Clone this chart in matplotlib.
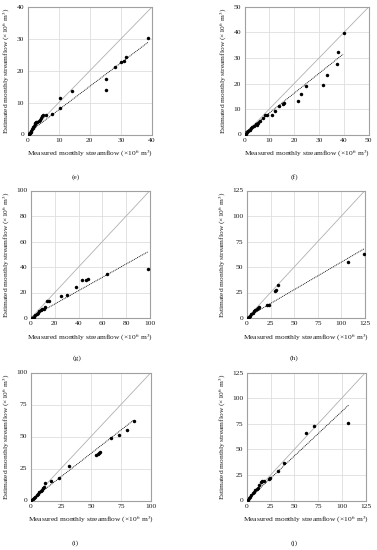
import matplotlib
matplotlib.use("Agg")
import matplotlib.pyplot as plt

plt.rcParams['font.family'] = ['Liberation Serif', 'DejaVu Serif']
plt.rcParams['mathtext.fontset'] = 'stix'

# ---- data (measured x, estimated y), units 10^6 m^3 ----
e_x = [0.4, 0.5, 0.6, 0.8, 1.0, 1.2, 1.4, 1.6, 1.8, 2.0, 2.2, 2.5, 2.8, 3.0, 3.5, 4.0, 4.2, 4.5, 5.0, 5.8,
       7.7, 10.3, 10.3, 14.1, 25.1, 25.3, 28.1, 29.9, 31.0, 31.7, 38.7]
e_y = [0.1, 0.2, 0.4, 0.6, 0.9, 1.2, 1.6, 2.0, 2.4, 2.8, 3.2, 3.6, 3.8, 4.0, 4.2, 4.5, 5.2, 5.8, 6.0, 6.0,
       6.3, 8.2, 11.4, 13.7, 14.0, 17.5, 21.2, 22.6, 23.2, 24.2, 30.2]
e_trend_x = [0.3, 38.7]
e_trend_y = [0.6, 28.9]

f_x = [0.3, 0.5, 1.1, 1.6, 2.2, 2.7, 3.2, 4.0, 4.5, 5.0, 5.6, 6.3, 7.3, 8.3, 9.0, 11.0, 12.1, 13.7,
       15.5, 15.9, 21.5, 22.8, 24.9, 31.5, 33.3, 37.4, 37.8, 40.2]
f_y = [0.1, 0.3, 0.8, 1.3, 1.8, 2.4, 2.9, 3.4, 4.0, 3.9, 4.5, 5.1, 6.3, 7.5, 7.6, 7.7, 9.2, 11.3,
       11.9, 12.3, 13.2, 15.8, 19.0, 19.6, 23.4, 27.6, 32.2, 39.8]
f_trend_x = [0.3, 39.7]
f_trend_y = [0.9, 31.5]

g_x = [0.8, 1.4, 2.5, 3.7, 4.8, 5.9, 7.1, 8.2, 9.6, 10.7, 11.9, 13.6, 15.5, 24.9, 29.9, 37.9, 42.9,
       46.6, 47.5, 63.6, 98.6]
g_y = [0.1, 0.3, 1.0, 2.1, 3.1, 4.2, 5.2, 6.0, 6.8, 7.3, 8.6, 13.1, 13.4, 17.3, 18.1, 24.3, 29.6,
       29.8, 30.4, 34.8, 38.5]
g_trend_x = [0.5, 98.6]
g_trend_y = [0.8, 52.1]

h_x = [0.7, 1.8, 3.2, 4.6, 6.0, 7.5, 8.9, 10.3, 11.7, 13.2, 21.7, 23.1, 29.9, 31.0, 32.7, 106.8, 123.8]
h_y = [0.1, 1.0, 2.3, 3.6, 5.2, 6.5, 7.9, 8.8, 9.8, 10.8, 12.4, 13.1, 26.5, 27.5, 32.7, 55.0, 62.5]
h_trend_x = [0.5, 123.8]
h_trend_y = [1.0, 67.7]

i_x = [0.3, 1.4, 2.5, 3.6, 4.7, 5.8, 6.9, 8.1, 9.2, 10.0, 10.8, 11.9, 16.7, 23.6, 31.4, 54.4, 55.8,
       56.9, 57.8, 66.7, 73.3, 80.0, 85.6]
i_y = [0.3, 1.0, 2.1, 3.1, 4.2, 5.2, 6.3, 7.3, 8.4, 9.4, 10.7, 13.9, 14.9, 17.8, 27.0, 35.9, 36.4,
       37.4, 38.2, 49.2, 50.8, 54.7, 62.0]
i_trend_x = [0.3, 85.6]
i_trend_y = [0.5, 62.8]

j_x = [0.6, 1.8, 3.2, 4.6, 6.0, 7.4, 8.8, 10.2, 11.7, 13.1, 14.5, 16.2, 18.0, 23.0, 24.4, 32.5, 39.5,
       62.1, 70.6, 106.6]
j_y = [0.3, 2.3, 3.9, 5.6, 7.2, 8.5, 9.8, 11.1, 12.4, 15.1, 17.7, 18.7, 19.3, 21.3, 21.9, 28.8, 36.3,
       66.4, 72.3, 75.3]
j_trend_x = [0.5, 107.3]
j_trend_y = [0.5, 93.3]

panel_labels = ['(e)', '(f)', '(g)', '(h)', '(i)', '(j)']
axis_max = [40, 50, 100, 125, 100, 125]
tick_steps = [10, 10, 20, 25, 25, 25]
xs = [e_x, f_x, g_x, h_x, i_x, j_x]
ys = [e_y, f_y, g_y, h_y, i_y, j_y]
txs = [e_trend_x, f_trend_x, g_trend_x, h_trend_x, i_trend_x, j_trend_x]
tys = [e_trend_y, f_trend_y, g_trend_y, h_trend_y, i_trend_y, j_trend_y]

W, H = 377, 550
fig = plt.figure(figsize=(W / 100, H / 100), dpi=100)

# axes rectangles in pixels: left, right, top, bottom
rects = [(27.7, 152, 7, 134.5), (244.5, 368.7, 7, 134.5),
         (31, 150, 190.5, 318), (247, 365, 190.5, 318),
         (31, 151, 372.5, 500.5), (247, 365.5, 372.5, 500.5)]
label_pos = [(76, 177), (294, 177), (77, 358), (294, 358), (75, 543), (294, 543)]

FS = 5.4
xlabel = 'Measured monthly streamflow (×10$^{6}$ m$^{3}$)'
ylabel = 'Estimated monthly streamflow (×10$^{6}$ m$^{3}$)'

for k in range(6):
    l, r, t, b = rects[k]
    ax = fig.add_axes([l / W, 1 - b / H, (r - l) / W, (b - t) / H])
    m = axis_max[k]
    ax.set_xlim(0, m)
    ax.set_ylim(0, m)
    ticks = list(range(0, m + 1, tick_steps[k]))
    ax.set_xticks(ticks)
    ax.set_yticks(ticks)
    ax.tick_params(length=0, labelsize=FS, pad=2.5, colors='#1a1a1a')
    ax.grid(True, color='#dedede', linewidth=0.6)
    ax.set_axisbelow(True)
    for s in ax.spines.values():
        s.set_color('#a0a0a0')
        s.set_linewidth(0.8)
    ax.plot([0, m], [0, m], color='#b0b0b0', linewidth=0.6, zorder=2)
    ax.plot(txs[k], tys[k], color='black', linestyle=(0, (1.2, 1.0)), linewidth=0.6, zorder=3)
    ax.plot(xs[k], ys[k], 'o', color='black', markersize=2.5, markeredgewidth=0, zorder=4)
    ax.set_xlabel(xlabel, fontsize=FS, labelpad=4, color='#1a1a1a')
    ax.set_ylabel(ylabel, fontsize=FS, labelpad=3, color='#1a1a1a')
    lx, ly = label_pos[k]
    fig.text(lx / W, 1 - ly / H, panel_labels[k], fontsize=FS, ha='center', va='center', color='#1a1a1a')

fig.savefig('out.png', dpi=100)
